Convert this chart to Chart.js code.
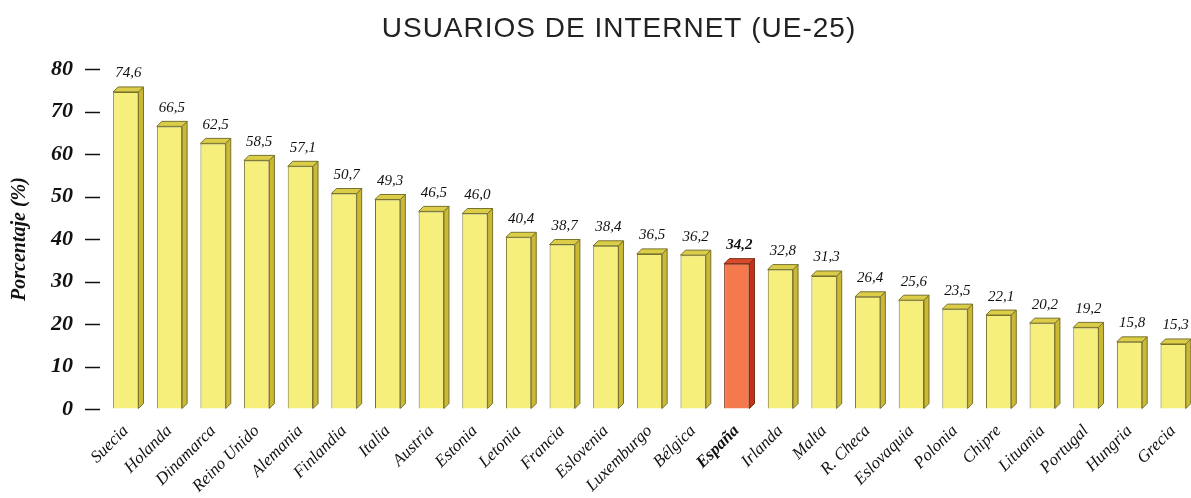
<!DOCTYPE html>
<html>
<head>
<meta charset="utf-8">
<script src="https://cdn.jsdelivr.net/npm/chart.js@4"></script>
<style>
    html, body { margin: 0; padding: 0; background: #fff; overflow: hidden; }
    #wrap { width: 1195px; height: 498px; }
</style>
</head>
<body>
<div id="wrap"><canvas id="chart"></canvas></div>
<script>
const countries = ['Suecia', 'Holanda', 'Dinamarca', 'Reino Unido', 'Alemania', 'Finlandia', 'Italia',
    'Austria', 'Estonia', 'Letonia', 'Francia', 'Eslovenia', 'Luxemburgo', 'Bélgica', 'España',
    'Irlanda', 'Malta', 'R. Checa', 'Eslovaquia', 'Polonia', 'Chipre', 'Lituania', 'Portugal',
    'Hungria', 'Grecia'];
const values = [74.6, 66.5, 62.5, 58.5, 57.1, 50.7, 49.3, 46.5, 46.0, 40.4, 38.7, 38.4, 36.5,
    36.2, 34.2, 32.8, 31.3, 26.4, 25.6, 23.5, 22.1, 20.2, 19.2, 15.8, 15.3];
const yTicks = [0, 10, 20, 30, 40, 50, 60, 70, 80];
const highlight = 'España';
const titleText = 'USUARIOS DE INTERNET (UE-25)';

const serif = "'Liberation Serif', 'DejaVu Serif', serif";

function isHi(i) { return countries[i] === highlight; }

// caras laterales y superiores para el efecto 3D, etiquetas de valor, marcas del eje y titulo
const bar3d = {
    id: 'bar3d',
    afterDatasetsDraw(chart) {
        const ctx = chart.ctx;
        const d = 5;
        chart.getDatasetMeta(0).data.forEach((bar, i) => {
            const p = bar.getProps(['x', 'y', 'base', 'width'], true);
            const l = p.x - p.width / 2, r = p.x + p.width / 2;
            ctx.save();
            ctx.lineWidth = 1;
            ctx.strokeStyle = isHi(i) ? '#7a2a14' : '#77722c';
            // lateral
            ctx.beginPath();
            ctx.moveTo(r, p.y);
            ctx.lineTo(r + d, p.y - d);
            ctx.lineTo(r + d, p.base - d);
            ctx.lineTo(r, p.base);
            ctx.closePath();
            ctx.fillStyle = isHi(i) ? '#c2341a' : '#cbb834';
            ctx.fill();
            ctx.stroke();
            // superior
            ctx.beginPath();
            ctx.moveTo(l, p.y);
            ctx.lineTo(l + d, p.y - d);
            ctx.lineTo(r + d, p.y - d);
            ctx.lineTo(r, p.y);
            ctx.closePath();
            ctx.fillStyle = isHi(i) ? '#d84a2a' : '#dccd48';
            ctx.fill();
            ctx.stroke();
            // valor
            ctx.fillStyle = '#111';
            ctx.font = (isHi(i) ? 'italic bold ' : 'italic ') + '15px ' + serif;
            ctx.textAlign = 'center';
            ctx.textBaseline = 'bottom';
            ctx.fillText(values[i].toFixed(1).replace('.', ','), p.x + d / 2, p.y - d - 6);
            ctx.restore();
        });
    },
    afterDraw(chart) {
        const ctx = chart.ctx;
        const y = chart.scales.y;
        const left = chart.chartArea.left;
        ctx.save();
        ctx.strokeStyle = '#111';
        ctx.lineWidth = 1.5;
        yTicks.forEach(v => {
            const py = Math.round(y.getPixelForValue(v)) + 0.5;
            ctx.beginPath();
            ctx.moveTo(left - 19, py);
            ctx.lineTo(left - 4, py);
            ctx.stroke();
        });
        // titulo
        ctx.fillStyle = '#222';
        ctx.font = "28px 'Liberation Sans', Arial, sans-serif";
        ctx.letterSpacing = '1px';
        ctx.textAlign = 'center';
        ctx.textBaseline = 'middle';
        ctx.fillText(titleText, 619, 29);
        ctx.restore();
    }
};

new Chart(document.getElementById('chart'), {
    type: 'bar',
    data: {
        labels: countries,
        datasets: [{
            data: values,
            backgroundColor: countries.map((c, i) => isHi(i) ? '#f47a4e' : '#f6ef7c'),
            borderColor: countries.map((c, i) => isHi(i) ? '#7a2a14' : '#77722c'),
            borderWidth: 1,
            categoryPercentage: 1,
            barPercentage: 0.58
        }]
    },
    options: {
        responsive: true,
        maintainAspectRatio: false,
        animation: false,
        layout: { padding: { left: 6, right: 0, top: 69, bottom: 0 } },
        plugins: {
            legend: { display: false },
            tooltip: { enabled: false },
            title: { display: false }
        },
        scales: {
            x: {
                afterFit: s => { s.height = 89; },
                grid: { display: false },
                border: { display: false },
                ticks: {
                    color: '#111',
                    maxRotation: 45,
                    minRotation: 45,
                    padding: 4,
                    font: ctx => ({
                        family: serif,
                        style: 'italic',
                        weight: isHi(ctx.index) ? 'bold' : 'normal',
                        size: 17
                    })
                }
            },
            y: {
                min: 0,
                max: 80,
                afterFit: s => { s.width = 98; },
                afterBuildTicks: scale => { scale.ticks = yTicks.map(v => ({ value: v })); },
                border: { display: false },
                grid: { drawOnChartArea: false, tickLength: 20, tickColor: 'rgba(0,0,0,0)' },
                ticks: {
                    color: '#111',
                    padding: 11,
                    font: { family: serif, style: 'italic', weight: 'bold', size: 22 }
                },
                title: {
                    display: true,
                    text: 'Porcentaje (%)',
                    color: '#111',
                    font: { family: serif, style: 'italic', weight: 'bold', size: 20 },
                    padding: { top: 2, bottom: 0 }
                }
            }
        }
    },
    plugins: [bar3d]
});
</script>
</body>
</html>
